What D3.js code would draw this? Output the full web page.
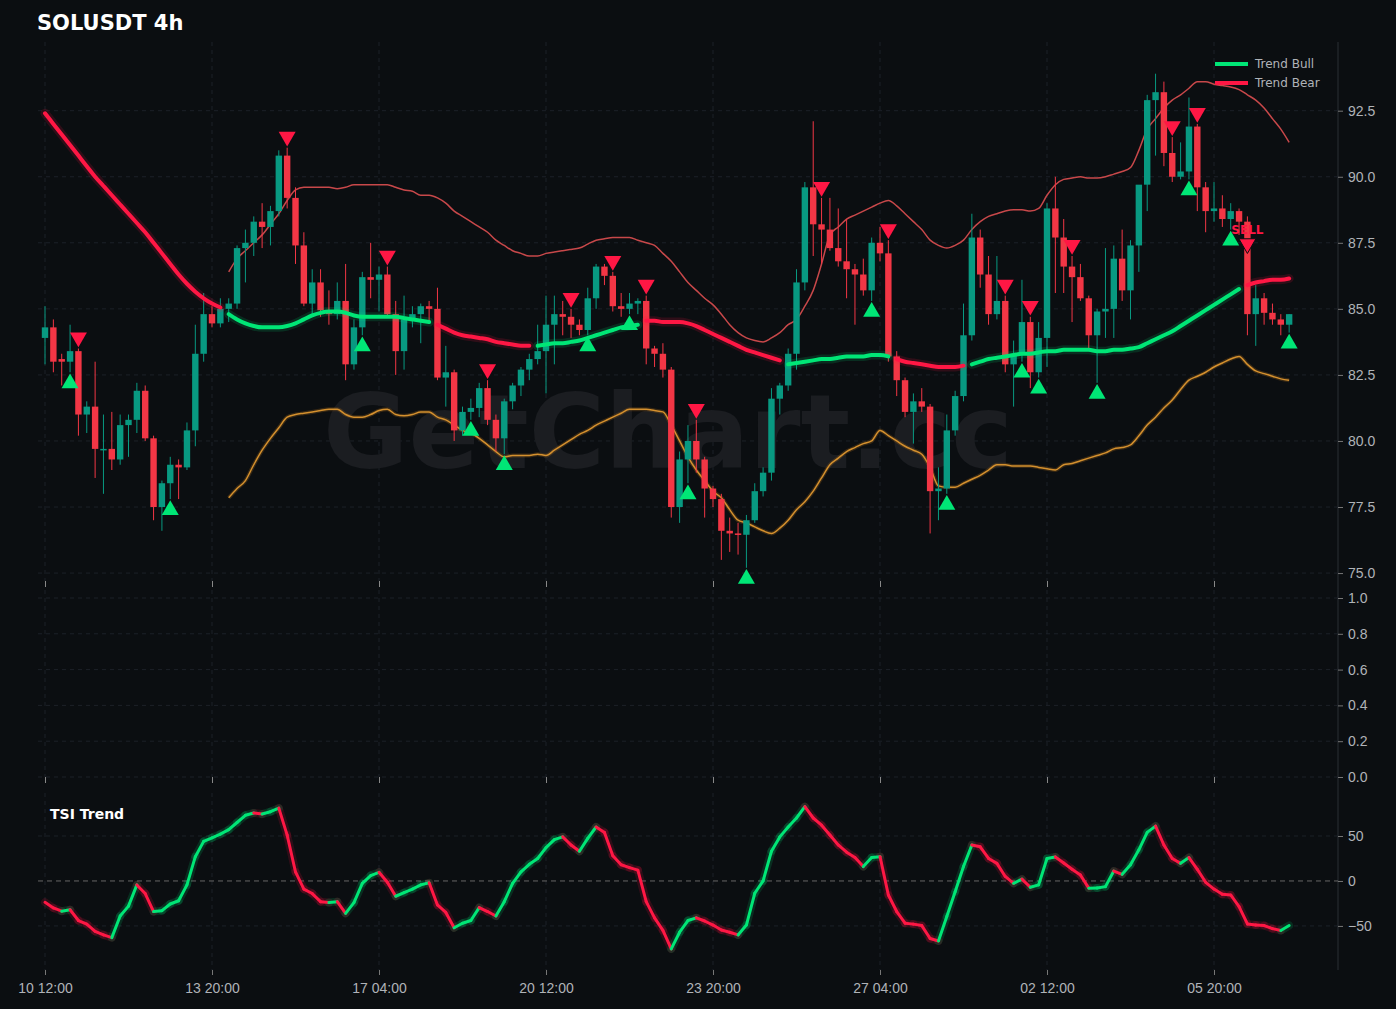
<!DOCTYPE html>
<html><head><meta charset="utf-8">
<script src="https://cdn.jsdelivr.net/npm/d3@7"></script>
<style>body{margin:0;background:#0b0e11;}svg{display:block;font-family:"DejaVu Sans",sans-serif;}</style>
</head><body><svg id="c" width="1396" height="1009"></svg>
<script>
const opens=[83.9,84.3,83.1,83.0,83.4,81.0,81.3,79.7,79.7,79.3,80.6,80.8,81.9,80.1,77.5,78.4,79.1,79.0,80.4,83.3,84.8,84.45,85.0,85.2,87.3,87.5,88.3,88.1,88.7,90.8,89.2,87.4,85.2,86.0,84.95,84.8,85.3,82.9,84.3,86.2,86.1,86.3,84.8,83.4,84.6,84.8,85.1,85.0,82.4,82.6,80.4,81.1,81.25,82.0,80.8,80.1,81.5,82.1,82.7,83.1,83.4,84.4,84.8,84.7,84.4,84.2,85.4,86.6,86.25,85.1,85.0,85.2,85.3,83.5,83.3,82.7,77.5,79.3,80.0,79.3,78.2,77.8,76.6,76.5,76.45,77.0,78.1,78.8,81.6,82.1,83.3,86.0,89.6,88.2,88.0,87.3,86.8,86.5,86.3,85.7,87.5,87.1,83.2,82.3,81.1,81.5,81.3,78.1,78.2,80.4,81.7,84.0,87.7,86.3,84.8,85.3,82.9,83.3,84.5,82.6,83.9,88.8,87.7,86.6,86.2,85.4,84.0,84.9,85.0,86.9,85.7,87.4,89.7,92.9,93.2,90.9,90.0,90.2,91.9,89.6,88.7,88.8,88.4,88.7,88.3,84.8,85.4,84.85,84.6,84.4];
const highs=[85.1,84.6,83.3,84.4,83.5,81.5,83.0,81.0,81.1,81.0,81.0,82.2,82.1,80.2,78.5,79.4,79.3,80.7,84.4,85.6,85.1,85.4,85.4,87.4,88.0,88.5,89.0,88.9,91.0,91.1,89.6,87.9,86.5,86.5,85.7,86.0,86.7,84.6,86.4,87.5,86.6,86.6,85.3,85.5,85.1,85.2,85.3,85.8,83.6,82.7,81.3,81.6,82.2,82.3,81.0,81.6,82.2,82.8,83.3,84.4,85.5,85.5,85.3,85.0,84.6,85.8,86.7,86.7,86.4,85.6,85.6,85.4,85.5,83.6,83.7,82.8,79.6,80.6,80.8,79.4,78.3,78.0,77.1,76.9,77.2,78.4,79.0,82.0,82.2,83.5,86.5,89.8,92.1,89.2,89.2,88.8,88.4,86.7,86.9,87.7,88.1,87.6,83.4,82.4,81.8,82.0,81.4,79.0,81.0,81.9,85.2,88.6,88.0,87.0,87.0,85.5,83.8,86.1,84.7,84.5,89.0,90.0,88.4,87.0,86.7,85.5,85.0,87.3,87.4,88.0,87.6,89.0,93.1,93.9,93.6,91.5,91.3,93.0,92.0,89.8,89.8,89.3,89.0,88.8,88.5,85.9,85.6,85.2,84.8,84.8];
const lows=[82.9,82.6,82.1,82.6,80.2,80.3,78.6,78.0,78.9,79.1,79.4,80.3,80.0,77.0,76.6,77.8,77.8,78.9,79.8,83.0,84.3,84.3,84.5,85.0,86.0,87.0,87.3,87.4,88.5,88.8,86.7,85.1,84.8,84.7,84.4,84.6,82.3,82.7,84.0,85.4,84.9,84.7,82.5,82.7,84.3,83.7,84.5,82.3,81.3,80.0,80.2,80.8,80.9,80.6,79.6,79.5,81.2,81.7,82.3,82.9,81.8,82.9,84.0,83.9,84.0,84.0,85.0,85.9,84.9,84.7,84.8,84.8,82.9,82.8,82.4,77.1,76.9,78.4,78.8,77.1,77.5,75.5,75.8,75.7,75.2,76.9,77.9,78.5,81.0,81.9,82.7,85.7,87.0,86.7,87.2,86.6,85.4,84.4,85.5,85.3,86.8,83.0,81.7,80.9,79.9,81.1,76.5,77.0,78.0,80.2,81.5,83.8,85.8,84.4,84.6,82.6,81.3,83.0,82.0,82.4,82.8,85.6,85.6,84.5,85.3,83.4,82.2,83.9,83.9,85.3,84.6,86.4,88.7,90.8,90.4,89.8,89.9,89.9,88.7,87.9,88.3,88.1,88.0,87.8,84.0,83.6,84.4,84.4,84.0,84.1];
const closes=[84.3,83.0,83.0,83.4,81.0,81.3,79.7,79.7,79.3,80.6,80.8,81.9,80.1,77.5,78.4,79.1,79.0,80.4,83.3,84.8,84.45,85.0,85.2,87.3,87.5,88.3,88.1,88.7,90.8,89.2,87.4,85.2,86.0,84.95,84.8,85.3,82.9,84.3,86.2,86.1,86.3,84.8,83.4,84.6,84.8,85.1,85.0,82.4,82.6,80.4,81.1,81.25,82.0,80.8,80.1,81.5,82.1,82.7,83.1,83.4,84.4,84.8,84.7,84.4,84.2,85.4,86.6,86.25,85.1,85.0,85.2,85.3,83.5,83.3,82.7,77.5,79.3,80.0,79.3,78.2,77.8,76.6,76.5,76.45,77.0,78.1,78.8,81.6,82.1,83.3,86.0,89.6,88.2,88.0,87.3,86.8,86.5,86.3,85.7,87.5,87.1,83.2,82.3,81.1,81.5,81.3,78.1,78.2,80.4,81.7,84.0,87.7,86.3,84.8,85.3,82.9,83.3,84.5,82.6,83.9,88.8,87.7,86.6,86.2,85.4,84.0,84.9,85.0,86.9,85.7,87.4,89.7,92.9,93.2,90.9,90.0,90.2,91.9,89.6,88.7,88.8,88.4,88.7,88.3,84.8,85.4,84.85,84.6,84.4,84.8];
const trend=[92.4,92.0,91.6,91.2,90.8,90.4,90.0,89.65,89.3,88.95,88.6,88.25,87.9,87.5,87.1,86.7,86.3,85.95,85.65,85.4,85.2,85.05,
84.8,84.6,84.45,84.35,84.3,84.3,84.3,84.35,84.45,84.6,84.75,84.85,84.9,84.9,84.85,84.75,84.7,84.7,84.7,84.7,84.7,84.65,84.6,84.55,84.5,
84.4,84.25,84.1,84.0,83.95,83.9,83.85,83.75,83.7,83.65,83.6,83.6,
83.6,83.65,83.7,83.7,83.75,83.8,83.9,84.0,84.1,84.2,84.3,84.35,84.4,
84.55,84.55,84.5,84.5,84.5,84.45,84.35,84.2,84.05,83.9,83.75,83.6,83.45,83.35,83.25,83.15,83.05,
82.9,82.95,83.0,83.05,83.1,83.1,83.15,83.2,83.2,83.2,83.25,83.25,83.2,
83.1,83.0,82.95,82.9,82.85,82.8,82.8,82.8,82.85,
82.9,83.0,83.1,83.15,83.2,83.25,83.3,83.3,83.35,83.4,83.4,83.45,83.45,83.45,83.45,83.4,83.4,83.45,83.45,83.5,83.55,83.7,83.85,84.0,84.15,84.35,84.55,84.75,84.95,85.15,85.35,85.55,85.75,
85.9,86.0,86.05,86.1,86.1,86.15];
const trendSegments=[[0,21,0],[22,46,1],[47,58,0],[59,71,1],[72,88,0],[89,101,1],[102,110,0],[111,143,1],[144,149,0]];
const bandStart=22;
const bandUpper=[86.4,86.9,87.2,87.5,87.8,88.2,88.6,89.1,89.5,89.6,89.6,89.6,89.6,89.55,89.6,89.7,89.7,89.7,89.7,89.7,89.6,89.5,89.45,89.3,89.3,89.2,89.0,88.7,88.5,88.3,88.1,87.9,87.6,87.4,87.2,87.1,87.0,87.0,87.1,87.15,87.2,87.25,87.3,87.45,87.6,87.65,87.7,87.7,87.7,87.6,87.5,87.4,87.1,86.8,86.4,86.0,85.7,85.4,85.15,84.8,84.4,84.1,83.9,83.8,83.75,83.9,84.1,84.4,84.6,85.1,85.7,86.7,87.8,88.1,88.4,88.55,88.7,88.85,89.0,89.1,88.9,88.6,88.3,88.0,87.6,87.4,87.3,87.4,87.6,88.0,88.3,88.5,88.6,88.7,88.75,88.75,88.7,88.8,89.3,89.7,89.9,89.95,90.0,89.95,89.95,90.0,90.1,90.2,90.35,91.0,91.8,92.2,92.6,92.9,93.1,93.35,93.6,93.6,93.5,93.45,93.4,93.3,93.1,92.9,92.6,92.2,91.8,91.3];
const bandLower=[77.85,78.2,78.5,79.1,79.65,80.1,80.5,80.9,81.0,81.05,81.1,81.15,81.2,81.2,81.0,80.9,80.9,81.0,81.15,81.2,81.0,80.95,81.0,81.1,81.1,80.9,80.8,80.6,80.4,80.3,80.1,79.85,79.6,79.4,79.45,79.45,79.45,79.5,79.45,79.65,79.85,80.05,80.25,80.4,80.6,80.75,80.9,81.05,81.2,81.2,81.2,81.15,81.1,80.6,80.0,79.4,78.9,78.5,78.1,77.85,77.4,77.0,76.9,76.75,76.6,76.5,76.7,77.0,77.4,77.7,78.1,78.6,79.1,79.35,79.6,79.75,79.9,80.0,80.4,80.2,80.0,79.8,79.65,79.5,79.0,78.3,78.25,78.25,78.4,78.55,78.7,78.9,79.1,79.1,79.05,79.05,79.05,79.0,78.95,78.9,79.1,79.15,79.25,79.35,79.45,79.55,79.7,79.75,79.85,80.2,80.6,80.9,81.25,81.55,81.95,82.3,82.45,82.6,82.8,82.95,83.1,83.2,82.9,82.65,82.55,82.45,82.35,82.3];
const tsi=[-23.7,-30,-33.6,-32,-44,-48,-56,-60,-63,-39,-28,-4.4,-14,-34,-33,-25.6,-22,-4.4,27,44,48,52,57,65,73,75.6,74.4,77,81,51,10,-9,-14,-23,-24,-23,-36,-24,-2.6,6,9.6,-1.5,-17,-13,-9,-4.4,-2,-26.7,-35,-52,-47,-44,-29.6,-34,-39,-23,-2.6,10,18.5,25,37,46,49,40,33,47.4,60,54,28,18,14.8,12,-23,-41,-55,-75.5,-57,-44,-41,-44.5,-49,-54.5,-57,-60,-49,-13.7,0,33,49,60,70,82.6,70,62,51,40,32,26,16,26,27,-15.6,-34,-47,-48,-49.6,-64,-66.7,-39.6,-12,16,40,38,25,19.6,5,-2.6,2,-7,-4.4,25,26.7,20,13,6.7,-8,-7.8,-6.3,11,7.4,18,34.6,54,61,40,25,19.6,26,13,-1.5,-9,-14.8,-15.6,-28.5,-47.8,-49,-49.6,-53,-55,-49.6];
const buyIdx=[3,15,38,51,55,65,70,77,84,99,108,117,119,126,137,142,149];
const sellIdx=[4,29,41,53,63,68,72,78,93,101,115,118,123,135,138,144];
const xTickIdx=[0,20,40,60,80,100,120,140];
const xTickLabels=["10 12:00","13 20:00","17 04:00","20 12:00","23 20:00","27 04:00","02 12:00","05 20:00"];
const priceTicks=[75,77.5,80,82.5,85,87.5,90,92.5];
const midTicks=[0,0.2,0.4,0.6,0.8,1.0];
const tsiTicks=[-50,0,50];

const GREEN="#089981",RED="#f23645",BULL="#00e676",BEAR="#ff1744";
const svg=d3.select("#c");
svg.append("rect").attr("width",1396).attr("height",1009).attr("fill","#0b0e11");
const L=38,R=1338;
const x=d3.scaleLinear().domain([-0.84,154.85]).range([L,R]);
const yP=d3.scaleLinear().domain([74.7,95.1]).range([581,42]);
const yM=d3.scaleLinear().domain([0,1]).range([777,598]);
const yT=d3.scaleLinear().domain([-99,97.8]).range([970,793]);
const grid="#1c2128";
function vgrid(y0,y1){xTickIdx.forEach(i=>svg.append("line").attr("x1",x(i)).attr("x2",x(i)).attr("y1",y0).attr("y2",y1).attr("stroke",grid).attr("stroke-dasharray","4,4"));}
vgrid(42,581);vgrid(590,777);vgrid(793,970);
svg.append("line").attr("x1",R).attr("x2",R).attr("y1",42).attr("y2",970).attr("stroke","#2a2e35");
priceTicks.forEach(p=>svg.append("line").attr("x1",L).attr("x2",R).attr("y1",yP(p)).attr("y2",yP(p)).attr("stroke",grid).attr("stroke-dasharray","4,4"));
const ax=(scale,ticks,fmt)=>{const a=svg.append("g").attr("transform","translate("+R+",0)").call(d3.axisRight(scale).tickValues(ticks).tickFormat(fmt).tickSize(5));a.select(".domain").remove();a.selectAll("line").attr("stroke","#777");a.selectAll("text").attr("fill","#b0b3b8").attr("font-size",14).attr("x",10);};
ax(yP,priceTicks,d3.format(".1f"));
midTicks.forEach(p=>svg.append("line").attr("x1",L).attr("x2",R).attr("y1",yM(p)).attr("y2",yM(p)).attr("stroke",grid).attr("stroke-dasharray","4,4"));
ax(yM,midTicks,d3.format(".1f"));
[-50,50].forEach(p=>svg.append("line").attr("x1",L).attr("x2",R).attr("y1",yT(p)).attr("y2",yT(p)).attr("stroke",grid).attr("stroke-dasharray","4,4"));
svg.append("line").attr("x1",L).attr("x2",R).attr("y1",yT(0)).attr("y2",yT(0)).attr("stroke","#666").attr("stroke-dasharray","5,4");
ax(yT,tsiTicks,d=>d<0?"\u2212"+Math.abs(d):d);
[581,777].forEach(y=>{svg.append("g").attr("transform","translate(0,"+y+")").call(d3.axisBottom(x).tickValues(xTickIdx).tickFormat("").tickSize(6)).call(g=>{g.select(".domain").remove();g.selectAll("line").attr("stroke","#888");});});
const xa=svg.append("g").attr("transform","translate(0,970)").call(d3.axisBottom(x).tickValues(xTickIdx).tickFormat((d,i)=>xTickLabels[i]).tickSize(5));
xa.select(".domain").remove();xa.selectAll("line").attr("stroke","#777");xa.selectAll("text").attr("fill","#b0b3b8").attr("font-size",14).attr("dy","1.1em");

svg.append("text").attr("x",668).attr("y",468).attr("text-anchor","middle").attr("font-size",104).attr("font-weight","bold").attr("fill","#1b1d21").text("GetChart.cc");

const ln=d3.line().x(d=>x(d[0])).y(d=>yP(d[1])).curve(d3.curveMonotoneX);
const up=bandUpper.map((v,k)=>[bandStart+k,v]), lo=bandLower.map((v,k)=>[bandStart+k,v]);
svg.append("path").attr("d",ln(lo)).attr("fill","none").attr("stroke","#8a5a1a").attr("stroke-width",4).attr("opacity",0.35);
svg.append("path").attr("d",ln(up)).attr("fill","none").attr("stroke","#c8484a").attr("stroke-width",1.5);
svg.append("path").attr("d",ln(lo)).attr("fill","none").attr("stroke","#d4902e").attr("stroke-width",1.5);

const cg=svg.append("g");
closes.forEach((c,i)=>{const o=opens[i],col=c>=o?GREEN:RED;
cg.append("line").attr("x1",x(i)).attr("x2",x(i)).attr("y1",yP(highs[i])).attr("y2",yP(lows[i])).attr("stroke",col).attr("stroke-width",1);
const t=yP(Math.max(o,c)),b=yP(Math.min(o,c));
cg.append("rect").attr("x",x(i)-3.2).attr("width",6.4).attr("y",t).attr("height",Math.max(b-t,1.5)).attr("fill",col);});

trendSegments.forEach(([s,e,b])=>{const pts=d3.range(s,e+1).map(i=>[i,trend[i]]);const col=b?BULL:BEAR;
svg.append("path").attr("d",ln(pts)).attr("fill","none").attr("stroke",col).attr("stroke-width",9).attr("opacity",0.15).attr("stroke-linecap","round");
svg.append("path").attr("d",ln(pts)).attr("fill","none").attr("stroke",col).attr("stroke-width",4).attr("stroke-linecap","round");});

const tri=d3.symbol().type(d3.symbolTriangle).size(125);
buyIdx.forEach(i=>svg.append("path").attr("d",tri()).attr("transform","translate("+x(i)+","+(yP(lows[i])+11)+")").attr("fill",BULL));
sellIdx.forEach(i=>{const yy=i===144?yP(opens[i])+22:yP(highs[i])-11;svg.append("path").attr("d",tri()).attr("transform","translate("+x(i)+","+yy+") rotate(180)").attr("fill",BEAR).attr("stroke","#0b0e11").attr("stroke-width",i===144?1:0);});
svg.append("text").attr("x",x(144)).attr("y",yP(opens[144])+12).attr("text-anchor","middle").attr("font-size",12).attr("font-weight","bold").attr("fill",BEAR).text("SELL");

const lt=d3.line().x(d=>x(d[0])).y(d=>yT(d[1]));
for(let pass=0;pass<2;pass++)for(let i=1;i<tsi.length;i++){const col=tsi[i]>=tsi[i-1]?BULL:BEAR;const seg=[[i-1,tsi[i-1]],[i,tsi[i]]];
svg.append("path").attr("d",lt(seg)).attr("stroke",col).attr("stroke-width",pass?3:8).attr("opacity",pass?1:0.15).attr("fill","none").attr("stroke-linecap","round");}
svg.append("text").attr("x",50).attr("y",819).attr("font-size",14).attr("font-weight","bold").attr("fill","#fff").text("TSI Trend");

svg.append("text").attr("x",37).attr("y",30).attr("font-size",21).attr("font-weight","bold").attr("fill","#fff").text("SOLUSDT 4h");
[["Trend Bull",BULL,64],["Trend Bear",BEAR,83]].forEach(([t,c,y])=>{svg.append("line").attr("x1",1215).attr("x2",1248).attr("y1",y).attr("y2",y).attr("stroke",c).attr("stroke-width",4);
svg.append("text").attr("x",1255).attr("y",y+4).attr("font-size",12).attr("fill","#b0b3b8").text(t);});
</script></body></html>
